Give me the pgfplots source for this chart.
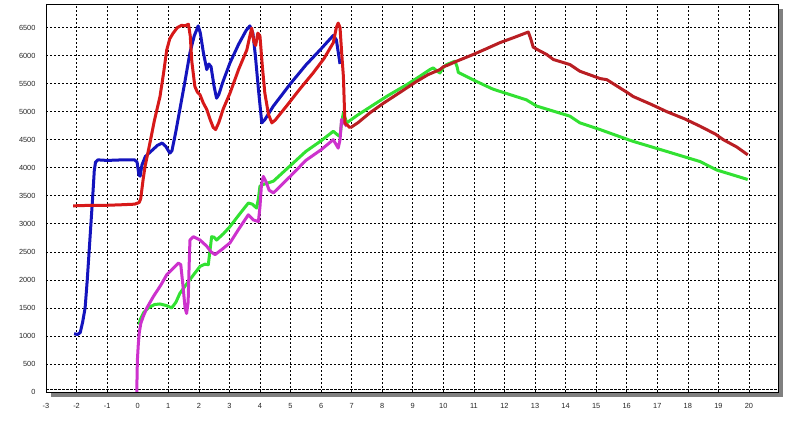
\documentclass[border=0pt]{standalone}
\usepackage{fontspec}
\setmainfont{Liberation Sans}
\usepackage{pgfplots}
\pgfplotsset{compat=1.18}
\usetikzlibrary{shadows}

\definecolor{cblue}{RGB}{20,20,190}
\definecolor{cred}{RGB}{215,25,25}
\definecolor{cdred}{RGB}{185,30,35}
\definecolor{cgreen}{RGB}{50,225,50}
\definecolor{cmag}{RGB}{205,50,205}

\begin{document}
\begin{tikzpicture}
\useasboundingbox (-46pt,-36pt) rectangle (754pt,392pt);
\begin{axis}[
    scale only axis,
    width=732pt, height=388pt,
    xmin=-3, xmax=20.95,
    ymin=0, ymax=6920,
    xtick={-3,-2,...,20},
    ytick={0,500,...,6500},
    grid=major,
    major grid style={black, line width=0.6pt, dash pattern=on 2pt off 2pt},
    axis line style={black, line width=0.8pt},
    tick style={black, line width=0.6pt},
    xtick pos=bottom, ytick pos=left,
    major tick length=0pt,
    ticklabel style={font=\fontsize{7.4}{8}\selectfont, text=black!85},
    /pgf/number format/assume math mode=true,
    /pgf/number format/1000 sep={},
    xticklabel style={yshift=-8pt},
    yticklabel style={xshift=-7pt},
    axis background/.style={fill=white, drop shadow={shadow xshift=5pt, shadow yshift=-5pt, fill=black!50, opacity=1}},
    every axis plot/.append style={line width=3pt, line join=round},
]
\addplot[black, densely dotted, line width=0.8pt] coordinates {(-3,45) (20.95,45)};

\addplot[cblue] coordinates {
(-2.08,1040) (-1.97,1025) (-1.88,1060) (-1.80,1250) (-1.72,1500) (-1.65,2000)
(-1.59,2500) (-1.53,3000) (-1.47,3500) (-1.42,3950) (-1.38,4100) (-1.30,4140)
(-1.0,4130) (-0.5,4140) (-0.1,4140) (-0.02,4100) (0.04,3870) (0.08,3850)
(0.14,4050) (0.25,4200) (0.45,4300) (0.65,4400) (0.80,4440) (0.92,4380)
(1.05,4260) (1.12,4300) (1.25,4650) (1.38,5040) (1.55,5550) (1.71,6050)
(1.85,6350) (1.98,6530) (2.05,6400) (2.15,6050) (2.26,5750) (2.33,5850)
(2.40,5800) (2.50,5450) (2.58,5240) (2.65,5300) (2.80,5550) (3.02,5870)
(3.30,6200) (3.55,6450) (3.67,6530) (3.77,6400) (3.85,6000) (3.95,5400)
(4.06,4800) (4.15,4850) (4.44,5100) (5.00,5500) (5.50,5830) (6.00,6120)
(6.40,6360) (6.50,6280) (6.62,5850)
};

\addplot[cgreen] coordinates {
(0.05,1200) (0.08,1290) (0.20,1420) (0.35,1500) (0.55,1560) (0.73,1570)
(0.95,1540) (1.11,1500) (1.25,1600) (1.38,1760) (1.70,2000) (2.04,2240)
(2.20,2280) (2.31,2270) (2.36,2500) (2.42,2770) (2.50,2760) (2.58,2710)
(2.80,2820) (3.02,2950) (3.30,3150) (3.62,3370) (3.75,3350) (3.89,3280)
(3.95,3450) (4.00,3670) (4.10,3700) (4.44,3760) (5.00,4040) (5.50,4290)
(6.00,4480) (6.40,4650) (6.55,4580) (6.62,4560) (6.67,4800) (6.73,4980)
(6.84,4800) (7.20,4940) (7.71,5120) (8.20,5290) (8.80,5480) (9.20,5620)
(9.56,5750) (9.67,5780) (9.80,5720) (9.89,5690) (10.00,5790) (10.11,5840)
(10.38,5900) (10.45,5800) (10.49,5700) (11.00,5560) (11.63,5400) (12.72,5210)
(13.05,5100) (14.14,4920) (14.47,4800) (15.13,4680) (16.05,4500) (16.21,4470)
(17.31,4290) (18.40,4110) (18.94,3960) (19.96,3790)
};

\addplot[cmag] coordinates {
(-0.03,0) (-0.02,300) (-0.01,570) (0.02,850) (0.05,1050) (0.10,1220)
(0.18,1345) (0.30,1500) (0.51,1700) (0.75,1900) (0.95,2090) (1.15,2200)
(1.33,2300) (1.41,2270) (1.48,1900) (1.55,1500) (1.60,1400) (1.65,1600)
(1.68,2200) (1.71,2710) (1.82,2770) (2.04,2710) (2.26,2600) (2.40,2500)
(2.53,2450) (2.75,2540) (3.02,2660) (3.30,2900) (3.62,3160) (3.78,3070)
(3.95,3040) (4.00,3300) (4.05,3700) (4.11,3845) (4.20,3750) (4.30,3600)
(4.44,3550) (5.00,3850) (5.50,4130) (6.00,4320) (6.40,4500) (6.56,4350)
(6.62,4500) (6.67,4860) (6.75,4800) (6.84,4740)
};

\addplot[cred] coordinates {
(-2.11,3320) (-1.5,3330) (-1.0,3330) (-0.5,3340) (-0.1,3350) (0.05,3380)
(0.10,3450) (0.18,3800) (0.24,4020) (0.40,4440) (0.55,4850) (0.73,5270)
(0.85,5700) (0.95,6100) (1.05,6300) (1.16,6400) (1.30,6500) (1.44,6540)
(1.55,6530) (1.66,6560) (1.72,6350) (1.77,5900) (1.87,5450) (1.95,5350)
(2.04,5300) (2.15,5150) (2.26,5040) (2.37,4860) (2.47,4720) (2.55,4680)
(2.65,4800) (2.80,5050) (3.02,5330) (3.30,5750) (3.57,6100) (3.65,6300)
(3.73,6490) (3.80,6250) (3.86,6180) (3.93,6400) (4.00,6350) (4.08,5800)
(4.16,5330) (4.28,4950) (4.39,4800) (4.50,4850) (4.87,5100) (5.30,5400)
(5.74,5690) (6.10,5950) (6.40,6230) (6.50,6500) (6.56,6580) (6.62,6500)
(6.68,6000) (6.73,5630) (6.78,4800) (6.95,4710)
};

\addplot[cdred] coordinates {
(6.95,4710) (7.20,4800) (7.60,4980)
(8.04,5150) (8.60,5350) (9.13,5540) (9.50,5660) (9.89,5750) (10.00,5800)
(10.15,5830) (10.44,5900) (10.98,6020) (11.40,6120) (11.85,6230) (12.30,6320)
(12.78,6420) (12.86,6300) (12.94,6150) (13.10,6100) (13.38,6020) (13.60,5930)
(14.14,5840) (14.47,5720) (15.13,5590) (15.35,5570) (16.05,5330) (16.21,5270)
(16.80,5130) (17.31,5000) (17.90,4870) (18.40,4740) (18.90,4600) (19.16,4500)
(19.60,4370) (19.96,4230)
};
\end{axis}
\end{tikzpicture}
\end{document}
